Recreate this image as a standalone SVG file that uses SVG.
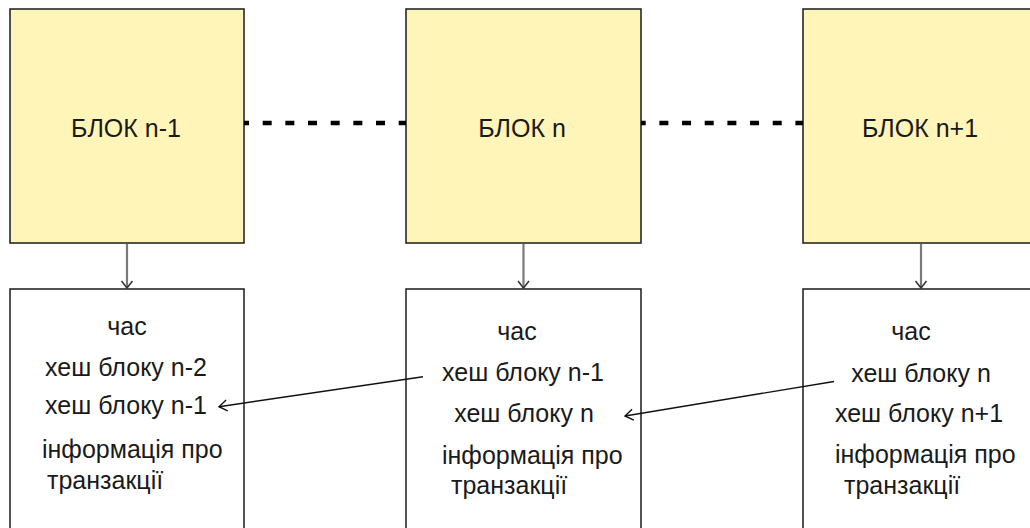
<svg xmlns="http://www.w3.org/2000/svg" width="1030" height="528" viewBox="0 0 1030 528">
  <defs>
    <marker id="arrowBlack" markerWidth="14" markerHeight="14" refX="10" refY="7" orient="auto" markerUnits="userSpaceOnUse">
      <path d="M2,1.5 L10,7 L2,12.5" fill="none" stroke="#111" stroke-width="1.4"/>
    </marker>
    <marker id="arrowGray" markerWidth="14" markerHeight="14" refX="10" refY="7" orient="auto" markerUnits="userSpaceOnUse">
      <path d="M3,1.5 L10,7 L3,12.5" fill="none" stroke="#333" stroke-width="1.5"/>
    </marker>
  </defs>
  <style>
    .block { fill: #fff5b9; stroke: #1a1a1a; stroke-width: 1.5; }
    .info { fill: #ffffff; stroke: #1a1a1a; stroke-width: 1.5; }
    text { font-family: "Liberation Sans", Arial, Helvetica, sans-serif; font-size: 25px; fill: #1a1a1a; }
    .c { text-anchor: middle; }
    .dash { stroke: #000; stroke-width: 4.5; stroke-dasharray: 9 13.67; fill: none; }
    .down { stroke: #7a7a7a; stroke-width: 2.2; fill: none; marker-end: url(#arrowGray); }
    .link { stroke: #111; stroke-width: 1.4; fill: none; marker-end: url(#arrowBlack); }
  </style>

  <g id="block-n-1">
    <rect class="block" x="10" y="9" width="234" height="234"/>
    <text class="c" x="126" y="137">БЛОК n-1</text>
  </g>
  <g id="block-n">
    <rect class="block" x="406" y="9" width="235" height="234"/>
    <text class="c" x="522" y="137">БЛОК n</text>
  </g>
  <g id="block-n1">
    <rect class="block" x="803" y="9" width="236" height="234"/>
    <text class="c" x="920" y="137">БЛОК n+1</text>
  </g>

  <g id="info-n-1">
    <rect class="info" x="10" y="289" width="234" height="260"/>
    <text class="c" x="127" y="335">час</text>
    <text class="c" x="126" y="376">хеш блоку n-2</text>
    <text class="c" x="126" y="414">хеш блоку n-1</text>
    <text x="42" y="458">інформація про</text>
    <text x="47" y="489">транзакції</text>
  </g>
  <g id="info-n">
    <rect class="info" x="406" y="289" width="235" height="260"/>
    <text class="c" x="517" y="340">час</text>
    <text class="c" x="523" y="381">хеш блоку n-1</text>
    <text class="c" x="524" y="422">хеш блоку n</text>
    <text x="442" y="464">інформація про</text>
    <text x="451" y="494">транзакції</text>
  </g>
  <g id="info-n1">
    <rect class="info" x="803" y="289" width="236" height="260"/>
    <text class="c" x="911" y="340">час</text>
    <text class="c" x="921" y="382">хеш блоку n</text>
    <text class="c" x="919" y="422">хеш блоку n+1</text>
    <text x="835" y="463">інформація про</text>
    <text x="844" y="494">транзакції</text>
  </g>

  <g id="connectors">
    <line class="dash" x1="244" y1="123" x2="406" y2="123" stroke-dashoffset="4"/>
    <line class="dash" x1="641" y1="123" x2="803" y2="123" stroke-dashoffset="4.3"/>
    <line class="down" x1="127" y1="244" x2="127" y2="288"/>
    <line class="down" x1="523.5" y1="244" x2="523.5" y2="288"/>
    <line class="down" x1="921" y1="244" x2="921" y2="288"/>
    <line class="link" x1="423" y1="376.7" x2="219" y2="406.7"/>
    <line class="link" x1="834" y1="381.5" x2="625" y2="416"/>
  </g>
</svg>
